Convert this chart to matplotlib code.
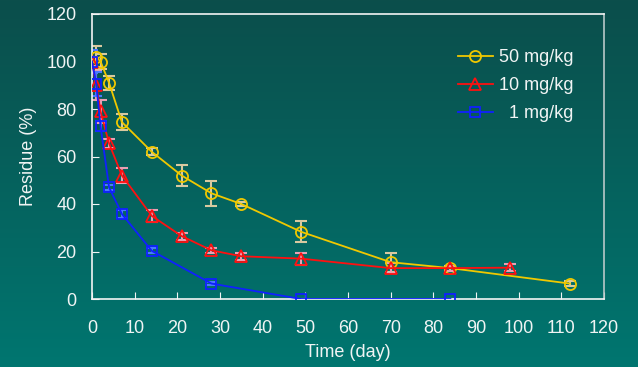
import numpy as np
import matplotlib
matplotlib.use('Agg')
import matplotlib.pyplot as plt
from matplotlib.colors import LinearSegmentedColormap

plt.rcParams['font.family'] = ['Liberation Sans', 'DejaVu Sans']

# 50 mg/kg
days_50 = [1, 2, 4, 7, 14, 21, 28, 35, 49, 70, 84, 112]
res_50 = [102, 100, 91, 74.5, 62, 52, 44.5, 40, 28.3, 15.5, 13, 6.5]
err_50 = [4.5, 3, 3, 3.3, 1.5, 4.3, 5.3, 1, 4.5, 4, 1, 1]

# 10 mg/kg
days_10 = [0, 1, 2, 4, 7, 14, 21, 28, 35, 49, 70, 84, 98]
res_10 = [100, 90, 79, 65.5, 52, 35, 26.5, 20.5, 18, 17, 13, 13, 13.2]
err_10 = [2, 6, 5, 2, 3, 2.5, 1.5, 1, 1.5, 2.5, 2, 1, 1.5]

# 1 mg/kg
days_1 = [0, 1, 2, 4, 7, 14, 28, 49, 84]
res_1 = [100, 90.5, 72.8, 47, 35.8, 20.3, 6.5, 0, 0]
err_1 = [5, 5, 2, 1, 1.5, 1, 0.5, 0, 0]

x_ticks = list(range(0, 121, 10))
y_ticks = list(range(0, 121, 20))

fig = plt.figure(figsize=(6.38, 3.67), dpi=100)

# gradient background
bg = fig.add_axes([0, 0, 1, 1])
cmap = LinearSegmentedColormap.from_list('bg', ['#0b4e4b', '#007670'])
bg.imshow(np.linspace(0, 1, 256).reshape(-1, 1), aspect='auto', cmap=cmap,
          extent=[0, 1, 0, 1])
bg.axis('off')

ax = fig.add_axes([92 / 638, 1 - 299 / 367, 512 / 638, 285 / 367])
ax.patch.set_alpha(0)

txt = '#f0f4f4'

ax.errorbar(days_50, res_50, yerr=err_50, fmt='none', ecolor='#d8c9a0',
            elinewidth=1.5, capsize=4, capthick=1.5, zorder=2)
ax.errorbar(days_10, res_10, yerr=err_10, fmt='none', ecolor='#e8a0b4',
            elinewidth=1.5, capsize=4, capthick=1.5, zorder=2)
ax.errorbar(days_1, res_1, yerr=err_1, fmt='none', ecolor='#4a78ff',
            elinewidth=1.5, capsize=4, capthick=1.5, zorder=2)

ax.plot(days_50, res_50, color='#f0c800', lw=1.3, marker='o', ms=8,
        mfc='none', mec='#f0c800', mew=1.3, label='50 mg/kg', zorder=3)
ax.plot(days_10, res_10, color='#ff1010', lw=1.3, marker='^', ms=8,
        mfc='none', mec='#ff1010', mew=1.3, label='10 mg/kg', zorder=3)
ax.plot(days_1, res_1, color='#1020ff', lw=1.3, marker='s', ms=7,
        mfc='none', mec='#1020ff', mew=1.3, label='  1 mg/kg', zorder=3)

ax.set_xlim(0, 120)
ax.set_ylim(0, 120)
ax.set_xticks(x_ticks)
ax.set_yticks(y_ticks)
ax.tick_params(direction='in', colors=txt, labelsize=13, length=5,
               labelcolor=txt)
ax.tick_params(axis='x', pad=15)
ax.tick_params(axis='y', pad=11)
for side in ['left', 'bottom', 'top']:
    ax.spines[side].set_color('#f4f4f4')
ax.spines['right'].set_color('#b8c8c8')
for s in ax.spines.values():
    s.set_linewidth(1.2)

ax.set_xlabel('Time (day)', color=txt, fontsize=13, labelpad=5)
ax.set_ylabel('Residue (%)', color=txt, fontsize=13, labelpad=7)

leg = ax.legend(loc='upper right', bbox_to_anchor=(0.965, 0.92), frameon=False,
                fontsize=13, labelcolor=txt, handlelength=1.9,
                handletextpad=0.35, labelspacing=0.6, borderaxespad=0.3)

fig.savefig('out.png', dpi=100)
